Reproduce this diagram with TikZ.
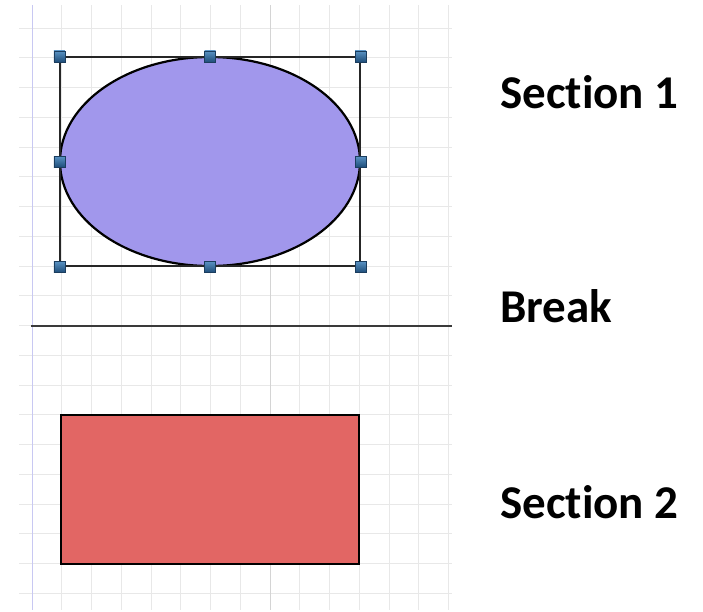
\documentclass[tikz,border=0pt]{standalone}
\usepackage{fontspec}
\setmainfont{Carlito}[Ligatures=NoCommon]
\usetikzlibrary{shapes.geometric}
\definecolor{gridc}{HTML}{E8E8E8}
\definecolor{gridd}{HTML}{D4D4D4}
\definecolor{marginc}{HTML}{C8C8F2}
\definecolor{ellfill}{HTML}{A197EC}
\definecolor{recfill}{HTML}{E26664}
\definecolor{handletop}{HTML}{5A93C4}
\definecolor{handlebot}{HTML}{1F4E7A}
\definecolor{handleedge}{HTML}{1B3D5E}
\definecolor{breakc}{HTML}{3A3A3A}
\tikzset{
  gridline/.style={draw=gridc, line width=0.8pt},
  handle/.style={rectangle, minimum size=11pt, inner sep=0pt, draw=handleedge, line width=0.6pt, top color=handletop, bottom color=handlebot},
  shapeline/.style={draw=black, line width=2.2pt},
  seltbox/.style={rectangle, draw=black!85, line width=1.3pt, inner sep=0pt},
  label/.style={anchor=base west, font=\fontsize{47}{55}\selectfont\bfseries, inner sep=0pt}
}
\begin{document}
\begin{tikzpicture}[x=1pt,y=-1pt]
\useasboundingbox (0,0) rectangle (703,611);
\fill[white] (0,0) rectangle (703,611);
% grid
\foreach \k in {0,...,19} {
  \draw[gridline] (19,{28+29.75*\k}) -- (452,{28+29.75*\k});
}
\foreach \k in {1,...,14} {
  \draw[gridline] ({32+29.75*\k},5) -- ({32+29.75*\k},610);
}
\draw[draw=gridd, line width=1pt] (270,5) -- (270,610);
\draw[draw=marginc, line width=1pt] (32,5) -- (32,610);
% break line
\coordinate (bl) at (31,326);
\coordinate (br) at (452,326);
\draw[draw=breakc, line width=2.5pt] (bl) -- (br);
% ellipse with selection
\node[ellipse, shapeline, fill=ellfill, minimum width=300pt, minimum height=209pt, inner sep=0pt] (ell) at (210,161.5) {};
\node[seltbox, minimum width=300pt, minimum height=209pt] (sel) at (210,161.5) {};
\foreach \a [count=\i] in {north west,north,north east,west,east,south west,south,south east} {
  \node[handle] (h\i) at (sel.\a) {};
}
% rectangle
\node[rectangle, shapeline, fill=recfill, minimum width=298pt, minimum height=149pt, inner sep=0pt] (rec) at (210,489.5) {};
% labels
\node[label] (s1) at (500,108) {Section 1};
\node[label] (brk) at (500,322) {Break};
\node[label] (s2) at (500,518) {Section 2};
\end{tikzpicture}
\end{document}
